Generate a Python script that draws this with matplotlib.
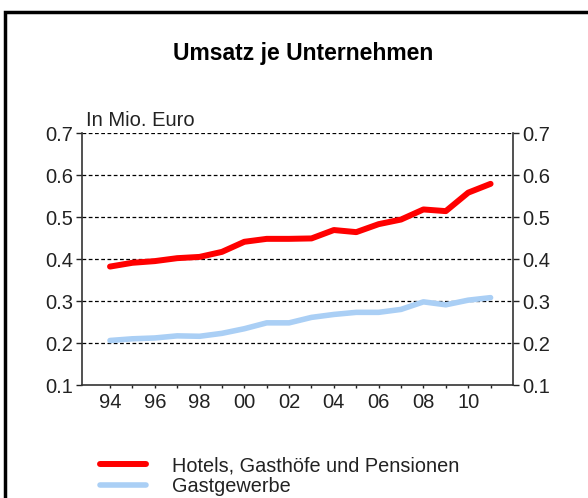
import numpy as np
import matplotlib
matplotlib.use('Agg')
import matplotlib.pyplot as plt
from matplotlib.lines import Line2D
from matplotlib.patches import Rectangle

plt.rcParams['font.family'] = ['Liberation Sans', 'DejaVu Sans']

# data
years = list(range(1994, 2012))
hotels = [0.382, 0.391, 0.395, 0.402, 0.405, 0.417, 0.441, 0.448, 0.448,
          0.449, 0.469, 0.464, 0.483, 0.494, 0.518, 0.514, 0.558, 0.579]
gastgewerbe = [0.206, 0.210, 0.212, 0.217, 0.216, 0.223, 0.234, 0.248, 0.248,
               0.261, 0.268, 0.273, 0.273, 0.280, 0.298, 0.291, 0.302, 0.308]
xtick_years = [1994, 1996, 1998, 2000, 2002, 2004, 2006, 2008, 2010]
xtick_labels = ['94', '96', '98', '00', '02', '04', '06', '08', '10']
yticks = [0.1, 0.2, 0.3, 0.4, 0.5, 0.6, 0.7]

fig = plt.figure(figsize=(5.88, 4.98), dpi=100)
ax = fig.add_axes([0.1395, 0.2269, 0.8724 - 0.1395, 0.7329 - 0.2269])

ax.plot(years, hotels, color='#ff0000', lw=4.3, solid_capstyle='round', zorder=3)
ax.plot(years, gastgewerbe, color='#aacff5', lw=4.0, solid_capstyle='round', zorder=2)

ax.set_xlim(1992.75, 2012)
ax.set_ylim(0.1, 0.7)
ax.set_yticks(yticks)
ax.set_yticklabels(['%.1f' % v for v in yticks])
ax.set_xticks(xtick_years)
ax.set_xticklabels(xtick_labels)
ax.set_xticks(years, minor=True)

# dashed grid at each y tick (0.7 replaces the top spine)
for v in yticks[1:]:
    ax.axhline(v, color='black', lw=0.9, ls=(0, (3, 2)), zorder=1)

ax.spines['top'].set_visible(False)
for s in ['left', 'right', 'bottom']:
    ax.spines[s].set_color('#333333')
    ax.spines[s].set_linewidth(1.2)

ax.tick_params(axis='y', which='both', left=True, right=True, labelleft=True,
               labelright=True, direction='out', length=4, width=1,
               labelsize=14.5, pad=2.5, colors='#222222')
ax.tick_params(axis='x', which='major', direction='out', length=2.5, width=1,
               labelsize=14.5, pad=3, colors='#222222')
ax.tick_params(axis='x', which='minor', direction='out', length=2.5, width=1,
               colors='#222222')

fig.text(0.515, 0.893, 'Umsatz je Unternehmen', ha='center', va='center',
         fontsize=16.5, fontweight='bold')
fig.text(86 / 588, 1 - 120 / 498, 'In Mio. Euro', ha='left', va='center',
         fontsize=14.5, color='#222222')

# legend placed under the plot
handles = [Line2D([0], [0], color='#ff0000', lw=4.3, solid_capstyle='round'),
           Line2D([0], [0], color='#aacff5', lw=4.0, solid_capstyle='round')]
fig.legend(handles, ['Hotels, Gasthöfe und Pensionen', 'Gastgewerbe'],
           loc='upper left', bbox_to_anchor=(100 / 588, 1 - 456 / 498),
           frameon=False, fontsize=14.3, handlelength=2.3, handletextpad=1.35,
           labelspacing=0.12, borderaxespad=0, borderpad=0, labelcolor='#222222')

# outer frame
fig.patches.append(Rectangle((5 / 588, -0.02), 1.1, 1 - 12 / 498 + 0.02,
                             transform=fig.transFigure, fill=False,
                             edgecolor='black', lw=2.5))

fig.savefig('out.png', dpi=100)
